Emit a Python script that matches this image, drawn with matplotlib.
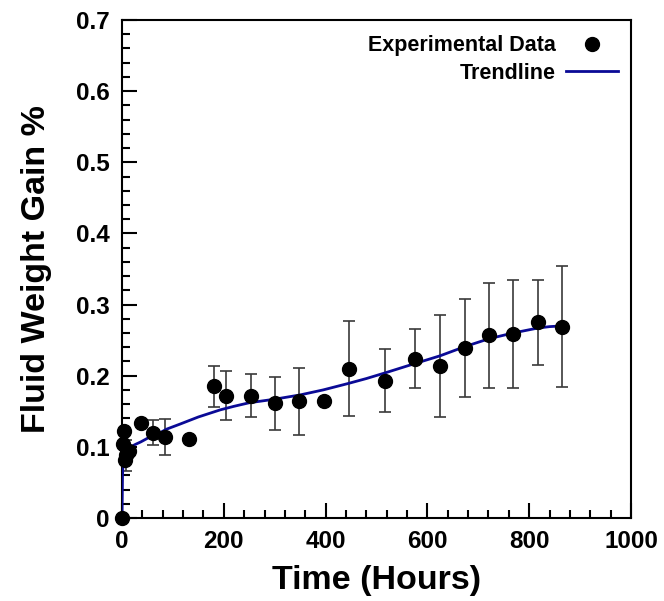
import matplotlib
matplotlib.use("Agg")
import matplotlib.pyplot as plt
from matplotlib.ticker import MultipleLocator
import numpy as np

# Experimental data (hours, weight gain %)
time_h = [0, 1, 3, 5, 7, 10, 14, 37, 60, 84, 132, 181, 205, 253, 300, 348,
          396, 445, 517, 576, 625, 674, 721, 768, 817, 864]
gain = [0, 0.104, 0.122, 0.082, 0.088, 0.092, 0.094, 0.133, 0.120, 0.114,
        0.111, 0.185, 0.172, 0.172, 0.161, 0.164, 0.165, 0.210, 0.193, 0.224,
        0.214, 0.239, 0.257, 0.259, 0.275, 0.269]
gain_err = [0, 0, 0, 0, 0.022, 0, 0, 0, 0.018, 0.025, 0, 0.029, 0.034, 0.030,
            0.037, 0.047, 0, 0.067, 0.044, 0.041, 0.072, 0.069, 0.074, 0.076,
            0.060, 0.085]

# Trendline
trend_x = [0, 1, 3, 10, 25, 37, 55, 75, 88, 114, 150, 193, 220, 250, 300,
           350, 395, 444, 480, 517, 566, 625, 674, 721, 768, 817, 840, 864]
trend_y = [0, 0.06, 0.09, 0.097, 0.103, 0.107, 0.114, 0.120, 0.125, 0.132,
           0.142, 0.152, 0.157, 0.162, 0.167, 0.173, 0.180, 0.189, 0.196,
           0.204, 0.215, 0.228, 0.241, 0.252, 0.260, 0.267, 0.269, 0.270]

plt.rcParams['font.family'] = ['Liberation Sans', 'DejaVu Sans']
plt.rcParams['font.weight'] = 'bold'

fig = plt.figure(figsize=(6.64, 6.01), dpi=100)
ax = fig.add_axes([122/664, 1-518/601, (631-122)/664, (518-20)/601])

t = np.array(time_h); g = np.array(gain); e = np.array(gain_err)
m = e > 0
ax.errorbar(t[m], g[m], yerr=e[m], fmt='none', ecolor='#3a3a3a',
            elinewidth=1.2, capsize=4, capthick=1.2, zorder=2)
ax.plot(trend_x, trend_y, color='#0a0a96', lw=2, zorder=3, label='Trendline')
ax.plot(time_h, gain, 'o', color='black', ms=10, zorder=4,
        clip_on=False, label='Experimental Data')

ax.set_xlim(0, 1000)
ax.set_ylim(0, 0.7)
ax.xaxis.set_major_locator(MultipleLocator(200))
ax.xaxis.set_minor_locator(MultipleLocator(40))
ax.yaxis.set_major_locator(MultipleLocator(0.1))
ax.yaxis.set_minor_locator(MultipleLocator(0.02))
ax.yaxis.set_major_formatter(matplotlib.ticker.FuncFormatter(
    lambda v, p: '0' if abs(v) < 1e-9 else f'{v:.1f}'))

for s in ax.spines.values():
    s.set_linewidth(1.5)
ax.tick_params(which='both', direction='in', top=False, right=False,
               width=1.5, labelsize=17.5)
ax.tick_params(which='major', length=11, pad=9)
ax.tick_params(which='minor', length=5.5)

ax.set_xlabel('Time (Hours)', fontsize=24.5, fontweight='bold', labelpad=8)
ax.set_ylabel('Fluid Weight Gain %', fontsize=24.5, fontweight='bold', labelpad=17)

h, l = ax.get_legend_handles_labels()
leg = ax.legend([h[1], h[0]], [l[1], l[0]], loc='upper right',
                markerfirst=False, frameon=False, fontsize=15.5,
                handlelength=2.4, handletextpad=0.5, labelspacing=0.3,
                bbox_to_anchor=(1.0, 0.995), borderaxespad=0.2)

fig.savefig('out.png', dpi=100)
